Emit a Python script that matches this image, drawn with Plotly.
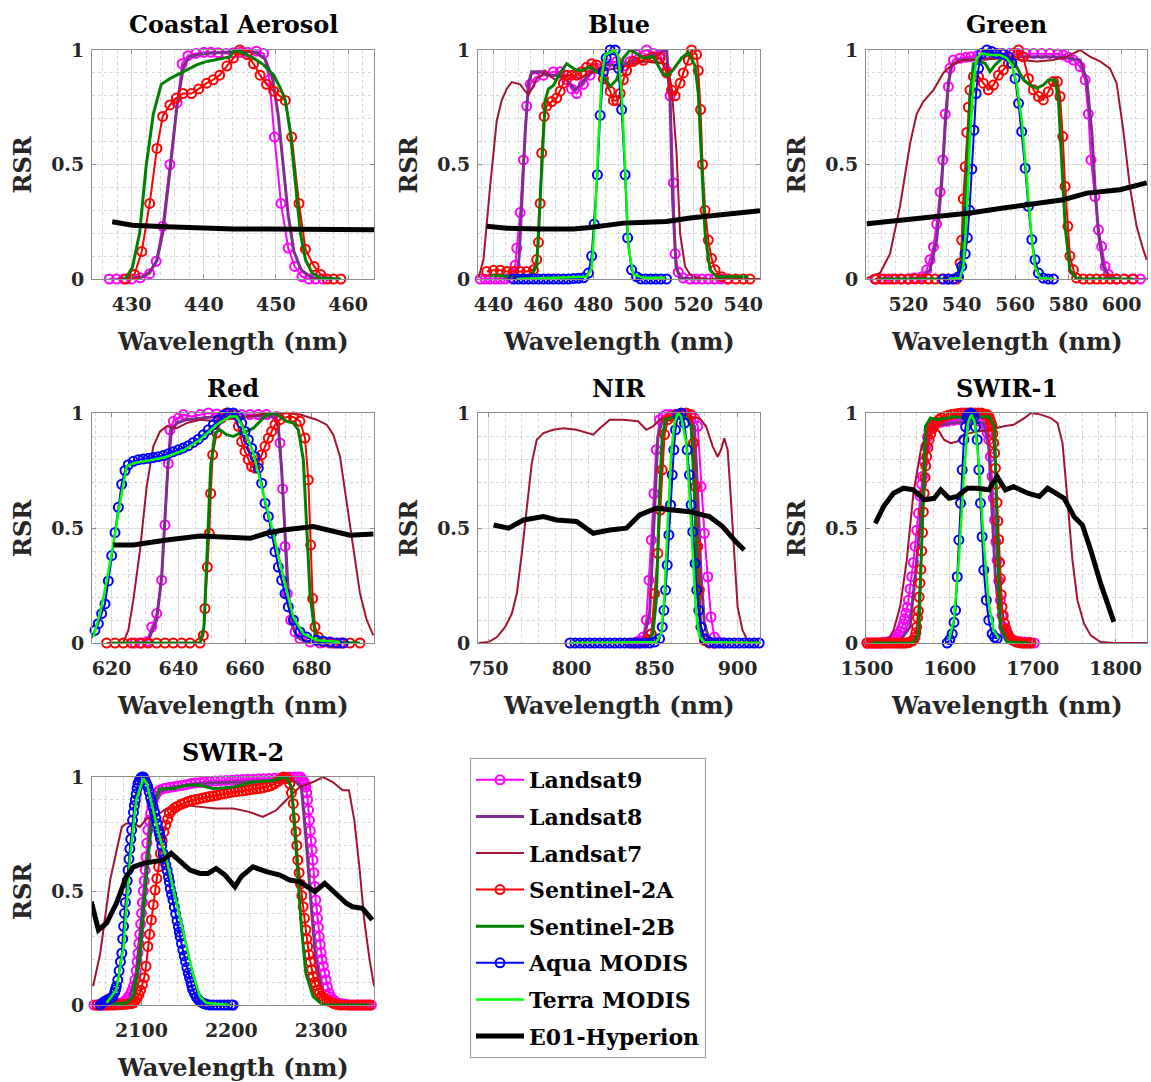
import plotly.graph_objects as go

# ---------------- labels / ticks ----------------
PANEL_TITLES = ["Coastal Aerosol", "Blue", "Green", "Red", "NIR", "SWIR-1", "SWIR-2"]
SERIES_NAMES = ["Landsat9", "Landsat8", "Landsat7", "Sentinel-2A", "Sentinel-2B",
                "Aqua MODIS", "Terra MODIS", "E01-Hyperion"]
X_TITLE = "Wavelength (nm)"
Y_TITLE = "RSR"
X_TICKS = [[430, 440, 450, 460], [440, 460, 480, 500, 520, 540], [520, 540, 560, 580, 600],
           [620, 640, 660, 680], [750, 800, 850, 900], [1500, 1600, 1700, 1800], [2100, 2200, 2300]]
Y_TICKS = [0, 0.5, 1]
Y_TICK_TEXT = ["0", "0.5", "1"]

# ---------------- Coastal Aerosol ----------------
CA_L9_WL = [426.9, 427.9, 428.9, 430.0, 431.2, 432.5, 433.4, 434.3, 435.3, 436.3, 437.0, 437.8, 438.9, 440.0, 441.0, 442.0, 443.1, 444.1, 445.1, 446.1, 447.3, 448.3, 449.1, 449.8, 450.7, 451.7, 452.6, 453.6, 454.6, 455.5, 456.5]
CA_L9_RSR = [0, 0, 0, 0, 0.005, 0.023, 0.077, 0.23, 0.5, 0.77, 0.94, 0.975, 0.985, 0.99, 0.99, 0.988, 0.985, 0.988, 0.99, 0.99, 0.995, 0.985, 0.87, 0.62, 0.33, 0.135, 0.055, 0.01, 0, 0, 0]
CA_L8_WL = [428, 430, 431.5, 432.5, 433.5, 434.3, 435.3, 436.3, 437.2, 438, 440, 444, 446, 447.5, 448.5, 449.5, 450.3, 451, 451.7, 452.5, 453.5, 455, 456]
CA_L8_RSR = [0, 0.003, 0.01, 0.03, 0.08, 0.2, 0.47, 0.76, 0.93, 0.97, 0.985, 0.99, 0.995, 0.985, 0.96, 0.88, 0.72, 0.5, 0.28, 0.12, 0.04, 0.005, 0]
CA_S2A_WL = [429.2, 430.4, 431.4, 432.5, 433.5, 434.3, 435.3, 436.2, 437.1, 438.3, 439.3, 440.4, 441.3, 442.2, 443.2, 444.1, 445.0, 446.0, 446.9, 447.8, 448.7, 449.7, 450.5, 451.3, 452.2, 453.2, 454.1, 455.3, 456.2, 457.1, 458.0, 459.0]
CA_S2A_RSR = [0, 0.02, 0.12, 0.33, 0.57, 0.71, 0.76, 0.79, 0.81, 0.81, 0.83, 0.855, 0.87, 0.89, 0.93, 0.965, 1.0, 0.98, 0.94, 0.89, 0.85, 0.82, 0.80, 0.78, 0.62, 0.33, 0.13, 0.055, 0.02, 0, 0, 0]
CA_S2B_WL = [429.1, 430.1, 431.1, 432.0, 433.0, 434.1, 435.3, 436.2, 437.6, 439.0, 440.4, 442.2, 443.6, 444.3, 445.3, 446.9, 448.3, 449.7, 450.6, 451.3, 452.0, 452.7, 453.4, 454.1, 455.0, 456.2, 458.0, 459.0]
CA_S2B_RSR = [0, 0.05, 0.2, 0.49, 0.72, 0.85, 0.875, 0.89, 0.91, 0.935, 0.95, 0.96, 0.97, 1.0, 0.99, 0.965, 0.935, 0.89, 0.835, 0.78, 0.64, 0.42, 0.2, 0.085, 0.026, 0.004, 0, 0]
CA_HYP_WL = [427.3, 430.1, 434.8, 439.4, 444.1, 448.7, 453.4, 458.0, 463.6]
CA_HYP_RSR = [0.25, 0.235, 0.228, 0.222, 0.218, 0.218, 0.218, 0.218, 0.215]

# ---------------- Blue ----------------
BL_L9_WL = [434.7, 436.7, 438.7, 440.7, 442.7, 444.7, 446.7, 448.0, 448.7, 449.3, 450.7, 452.0, 453.3, 454.7, 456.7, 460.0, 464.0, 466.7, 469.3, 471.3, 473.3, 476.0, 478.7, 481.3, 485.3, 489.3, 492.0, 494.7, 497.3, 501.3, 504.0, 506.7, 509.3, 510.7, 512.0, 512.7, 514.0, 516.0, 518.7, 521.0, 523.5, 526.0, 528.5, 531.0, 533.5]
BL_L9_RSR = [0, 0, 0, 0, 0, 0, 0.005, 0.02, 0.06, 0.135, 0.29, 0.52, 0.755, 0.85, 0.88, 0.89, 0.905, 0.905, 0.87, 0.83, 0.81, 0.85, 0.89, 0.92, 0.94, 0.95, 0.93, 0.95, 0.98, 1.0, 0.985, 0.978, 0.91, 0.8, 0.42, 0.11, 0.03, 0.004, 0, 0, 0, 0, 0, 0, 0]
BL_L8_WL = [444.0, 449.3, 450.3, 451.3, 452.7, 454.0, 455.3, 458.7, 461.3, 465.3, 469.3, 472.7, 475.3, 478.7, 485.3, 492.0, 498.7, 505.3, 509.3, 510.7, 511.7, 513.1, 514.7, 525.3]
BL_L8_RSR = [0, 0.01, 0.1, 0.35, 0.64, 0.855, 0.905, 0.905, 0.89, 0.89, 0.87, 0.825, 0.855, 0.9, 0.935, 0.935, 0.97, 0.98, 1.0, 0.78, 0.35, 0.055, 0.004, 0]
BL_L7_WL = [434.0, 436.0, 438.7, 441.3, 443.3, 445.3, 447.3, 448.7, 450.7, 452.7, 454.0, 455.3, 457.3, 459.3, 460.7, 462.7, 464.7, 466.7, 470.7, 474.7, 478.7, 489.3, 500.0, 509.3, 511.3, 513.3, 514.7, 516.7, 518.7, 522.7, 546.7]
BL_L7_RSR = [0.005, 0.085, 0.41, 0.69, 0.78, 0.83, 0.86, 0.855, 0.85, 0.82, 0.805, 0.83, 0.875, 0.89, 0.91, 0.885, 0.87, 0.885, 0.89, 0.875, 0.9, 0.92, 0.95, 0.94, 0.84, 0.55, 0.2, 0.055, 0.02, 0, 0]
BL_S2A_WL = [437.3, 440.0, 442.7, 445.3, 448.0, 450.7, 453.3, 456.0, 457.3, 458.0, 458.7, 459.3, 460.3, 461.3, 463.3, 465.3, 466.7, 468.0, 469.3, 471.3, 473.3, 475.3, 477.3, 479.3, 481.3, 484.0, 486.7, 488.0, 489.3, 490.7, 492.0, 493.3, 496.0, 500.0, 504.0, 506.7, 509.3, 511.3, 512.7, 514.7, 516.0, 518.0, 519.3, 521.3, 522.0, 522.9, 523.7, 524.7, 526.0, 527.3, 528.7, 531.3, 534.0, 537.0, 540.0, 542.7]
BL_S2A_RSR = [0.033, 0.038, 0.038, 0.033, 0.033, 0.033, 0.033, 0.04, 0.085, 0.16, 0.33, 0.55, 0.71, 0.755, 0.775, 0.79, 0.82, 0.855, 0.89, 0.89, 0.89, 0.905, 0.925, 0.94, 0.935, 0.875, 0.82, 0.78, 0.78, 0.81, 0.87, 0.91, 0.95, 0.955, 0.97, 0.965, 0.9, 0.825, 0.8, 0.855, 0.9, 0.955, 1.0, 0.98, 0.91, 0.74, 0.5, 0.3, 0.17, 0.09, 0.04, 0.01, 0, 0, 0, 0]
BL_S2B_WL = [438.7, 454.7, 457.3, 459.3, 460.7, 462.0, 464.0, 466.7, 469.3, 472.7, 475.3, 478.7, 481.3, 484.0, 486.7, 489.3, 492.0, 494.7, 497.3, 500.0, 504.0, 507.3, 509.3, 512.0, 515.3, 518.0, 520.7, 522.0, 523.3, 524.7, 526.7, 529.3, 542.0]
BL_S2B_RSR = [0.015, 0.01, 0.055, 0.49, 0.78, 0.83, 0.845, 0.9, 0.94, 0.915, 0.91, 0.925, 0.905, 0.89, 0.84, 0.87, 0.965, 1.0, 0.985, 0.965, 0.97, 0.905, 0.885, 0.915, 0.965, 0.99, 0.93, 0.81, 0.52, 0.2, 0.04, 0.01, 0.01]
BL_AQ_WL = [448, 450, 452, 454, 456, 458, 460, 462, 464, 466, 468, 470, 472, 474, 476, 478.0, 479.3, 480.3, 481.6, 482.7, 484.0, 485.1, 486.7, 488.7, 490.0, 491.3, 492.7, 493.7, 495.3, 497.3, 499, 501, 503, 505, 507, 509.3]
BL_AQ_RSR = [0, 0, 0, 0, 0, 0, 0, 0, 0, 0, 0, 0, 0.002, 0.003, 0.005, 0.026, 0.1, 0.24, 0.455, 0.715, 0.905, 0.965, 1.0, 1.0, 0.92, 0.74, 0.455, 0.18, 0.04, 0.01, 0, 0, 0, 0, 0, 0]
BL_TE_WL = [449.3, 477.3, 479.3, 480.7, 482.0, 483.3, 484.7, 486.7, 488.7, 490.0, 491.3, 492.7, 494.0, 496.0, 500.0, 508.7]
BL_TE_RSR = [0, 0.01, 0.045, 0.27, 0.6, 0.88, 0.98, 0.99, 1.0, 0.97, 0.81, 0.49, 0.14, 0.02, 0.005, 0.005]
BL_HYP_WL = [437.3, 445.3, 458.7, 472.0, 478.7, 485.3, 492.0, 498.7, 509.3, 518.7, 532.0, 546.7]
BL_HYP_RSR = [0.23, 0.222, 0.218, 0.218, 0.225, 0.237, 0.244, 0.247, 0.251, 0.266, 0.28, 0.298]

# ---------------- Green ----------------
GR_L9_WL = [508, 511, 514, 517, 520, 522, 525.0, 526.9, 528.1, 529.4, 530.6, 531.9, 532.9, 533.8, 535.0, 535.6, 536.9, 539.4, 541.5, 543.5, 546, 549, 552, 555, 558, 561, 564, 567, 570, 573, 576, 578.1, 580, 581.9, 584.4, 586.3, 587.5, 588.5, 590.0, 591.3, 592.5, 593.8, 595.0, 598.1, 601, 604, 607, 610]
GR_L9_RSR = [0, 0, 0, 0, 0, 0.004, 0.01, 0.04, 0.084, 0.14, 0.24, 0.38, 0.52, 0.72, 0.84, 0.92, 0.956, 0.964, 0.968, 0.971, 0.975, 0.978, 0.982, 0.985, 0.985, 0.985, 0.985, 0.985, 0.985, 0.985, 0.982, 0.978, 0.968, 0.956, 0.927, 0.87, 0.72, 0.52, 0.36, 0.215, 0.142, 0.055, 0.02, 0, 0, 0, 0, 0]
GR_L8_WL = [524.4, 528.1, 530.6, 532.5, 533.8, 535.0, 536.3, 539.4, 549.4, 561.9, 574.4, 580.6, 584.4, 586.9, 588.8, 590.0, 591.3, 593.1, 595.6, 599.4]
GR_L8_RSR = [0, 0.04, 0.17, 0.42, 0.665, 0.855, 0.935, 0.956, 0.964, 0.971, 0.971, 0.964, 0.956, 0.87, 0.64, 0.40, 0.2, 0.055, 0.004, 0]
GR_L7_WL = [504.4, 509.4, 513.1, 516.9, 520.6, 523.1, 525.6, 529.4, 533.1, 536.3, 540.6, 545.6, 555.6, 563.1, 568.1, 574.4, 579.4, 584.4, 588.1, 591.9, 595.6, 598.1, 600.6, 603.1, 605.6, 608.1, 609.4]
GR_L7_RSR = [0.004, 0.026, 0.11, 0.32, 0.59, 0.72, 0.775, 0.825, 0.9, 0.935, 0.956, 0.956, 0.964, 0.956, 0.95, 0.956, 0.971, 1.0, 0.971, 0.95, 0.92, 0.855, 0.65, 0.40, 0.23, 0.128, 0.084]
GR_S2A_WL = [507.5, 510, 512.5, 515, 517.5, 520, 522.5, 525, 527.5, 530, 532.5, 535, 538.1, 539.4, 540.0, 540.6, 541.3, 541.9, 542.5, 543.1, 544.4, 546.3, 548.1, 550.0, 551.9, 553.8, 555.6, 557.5, 559.4, 561.3, 563.1, 565.0, 566.9, 568.8, 570.6, 572.5, 574.4, 575.9, 576.9, 577.9, 578.8, 579.8, 580.6, 581.9, 583.1, 585.6, 588.1, 590.6, 593.1, 595.6, 598.1, 601, 604.4]
GR_S2A_RSR = [0, 0, 0, 0, 0, 0, 0, 0, 0, 0, 0, 0, 0, 0.07, 0.17, 0.35, 0.49, 0.64, 0.75, 0.825, 0.884, 0.884, 0.855, 0.826, 0.847, 0.89, 0.913, 0.942, 0.985, 1.0, 0.97, 0.876, 0.826, 0.797, 0.782, 0.818, 0.862, 0.862, 0.797, 0.622, 0.404, 0.23, 0.1, 0.04, 0.004, 0, 0, 0, 0, 0, 0, 0, 0]
GR_S2B_WL = [509.4, 538.1, 540.0, 541.9, 543.1, 544.4, 546.3, 548.8, 550.6, 552.5, 554.4, 555.6, 558.1, 560.6, 563.1, 565.6, 568.1, 570.6, 572.5, 575.0, 576.3, 577.5, 578.8, 580.6, 583.1, 604.4]
GR_S2B_RSR = [0, 0, 0.084, 0.46, 0.8, 0.94, 0.95, 0.942, 0.905, 0.935, 0.956, 0.971, 0.964, 0.927, 0.87, 0.847, 0.833, 0.847, 0.869, 0.869, 0.782, 0.52, 0.23, 0.04, 0, 0]
GR_AQ_WL = [533.1, 535.0, 536.9, 538.8, 540.0, 541.3, 542.1, 542.9, 543.8, 544.6, 545.4, 546.3, 547.5, 549.4, 551.3, 553.1, 555.6, 557.5, 558.8, 560.0, 561.3, 562.5, 563.8, 565.0, 566.3, 567.5, 568.8, 570.6, 572.5, 574.4]
GR_AQ_RSR = [0, 0, 0, 0.01, 0.055, 0.11, 0.18, 0.3, 0.48, 0.65, 0.81, 0.92, 0.985, 1.0, 0.993, 0.985, 0.983, 0.971, 0.942, 0.876, 0.767, 0.644, 0.484, 0.317, 0.172, 0.084, 0.026, 0.004, 0, 0]
GR_TE_WL = [535.0, 539.4, 540.6, 541.9, 543.1, 544.4, 545.6, 547.5, 550.6, 554.4, 556.9, 558.8, 560.6, 562.5, 563.8, 565.0, 566.3, 567.5, 569.4, 574.4]
GR_TE_RSR = [0, 0.004, 0.055, 0.27, 0.61, 0.855, 0.964, 0.985, 0.978, 0.978, 0.964, 0.935, 0.855, 0.695, 0.52, 0.346, 0.172, 0.055, 0.004, 0]
GR_HYP_WL = [504.4, 509.4, 518.1, 530.6, 543.1, 555.6, 568.1, 578.1, 586.9, 599.4, 609.4]
GR_HYP_RSR = [0.241, 0.247, 0.259, 0.27, 0.288, 0.31, 0.328, 0.346, 0.375, 0.39, 0.42]

# ---------------- Red ----------------
RD_L9_WL = [627, 629, 630.5, 632.0, 633.5, 635.0, 636.0, 637.0, 637.5, 638.5, 640.0, 641.5, 644.0, 646.5, 649.0, 651.5, 654, 656.5, 659, 661.5, 664, 666.5, 669.5, 670.5, 671.3, 672.0, 672.7, 673.7, 675.0, 676.5, 679.5, 682.5, 685.5, 688.5]
RD_L9_RSR = [0, 0, 0.005, 0.07, 0.128, 0.273, 0.513, 0.78, 0.927, 0.964, 0.978, 0.993, 0.985, 0.993, 1.0, 0.996, 0.993, 0.993, 0.993, 0.993, 0.993, 0.993, 0.985, 0.87, 0.67, 0.42, 0.215, 0.1, 0.048, 0.019, 0.004, 0, 0, 0]
RD_L8_WL = [631.0, 633.5, 635.0, 636.0, 637.0, 638.0, 639.5, 642.5, 646.5, 651.5, 656.5, 662.5, 668.5, 670.0, 671.0, 672.0, 673.0, 674.0, 675.5, 678.5, 682.5]
RD_L8_RSR = [0.012, 0.1, 0.29, 0.535, 0.8, 0.927, 0.956, 0.971, 0.978, 0.985, 0.98, 0.987, 0.985, 0.94, 0.753, 0.477, 0.215, 0.084, 0.026, 0.004, 0]
RD_L7_WL = [623.5, 625.0, 626.5, 628.5, 630.5, 632.5, 634.5, 636.5, 639.5, 642.5, 646.5, 651.5, 656.5, 661.5, 666.5, 671.5, 676.5, 681.5, 684.5, 686.5, 688.5, 690.0, 691.5, 693.0, 694.5, 696.5, 698.5]
RD_L7_RSR = [0.004, 0.055, 0.186, 0.404, 0.68, 0.855, 0.92, 0.942, 0.934, 0.956, 0.971, 0.964, 0.978, 0.985, 1.0, 1.0, 0.993, 0.971, 0.949, 0.906, 0.81, 0.666, 0.506, 0.36, 0.215, 0.1, 0.033]
RD_S2A_WL = [618.5, 621, 623.5, 626, 628.5, 631, 633.5, 636, 638.5, 641, 643.5, 646.5, 647.5, 648.0, 648.7, 649.3, 649.7, 650.3, 651.5, 653.0, 654.5, 656.5, 658.0, 659.0, 660.0, 661.0, 662.0, 663.0, 664.0, 665.0, 666.0, 667.0, 668.0, 669.0, 670.5, 672.5, 674.5, 676.5, 678.0, 679.0, 679.7, 680.3, 681.0, 682.0, 683.5, 686.5, 689, 691.5, 694.5]
RD_S2A_RSR = [0, 0, 0, 0, 0, 0, 0, 0, 0, 0, 0, 0, 0.033, 0.15, 0.33, 0.477, 0.65, 0.818, 0.913, 0.978, 1.0, 0.993, 0.942, 0.876, 0.833, 0.797, 0.767, 0.76, 0.782, 0.818, 0.855, 0.891, 0.92, 0.949, 0.971, 0.983, 0.983, 0.964, 0.891, 0.709, 0.426, 0.193, 0.07, 0.026, 0.004, 0, 0, 0, 0]
RD_S2B_WL = [619.5, 646.5, 647.7, 648.7, 649.7, 651.0, 652.5, 654.5, 656.5, 658.5, 660.5, 662.5, 664.5, 666.5, 668.5, 670.5, 672.5, 674.5, 676.0, 677.5, 678.5, 679.5, 681.0, 683.0, 694.5]
RD_S2B_RSR = [0, 0, 0.07, 0.42, 0.767, 0.913, 0.927, 0.906, 0.898, 0.913, 0.92, 0.934, 0.964, 0.993, 1.0, 0.985, 0.964, 0.956, 0.927, 0.797, 0.506, 0.215, 0.04, 0.004, 0]
RD_AQ_WL = [613.5, 615.0, 616.0, 617.0, 618.0, 619.0, 620.0, 621.0, 622.0, 623.0, 624.0, 625.0, 626.5, 628.0, 629.5, 631.0, 632.5, 634.0, 635.5, 637.0, 638.5, 640.0, 641.5, 643.0, 644.5, 646.0, 647.5, 649.0, 650.5, 652.0, 653.5, 655.0, 656.5, 658.0, 659.0, 660.0, 661.0, 662.0, 663.0, 664.0, 665.0, 666.0, 667.0, 668.0, 669.0, 670.0, 671.0, 672.0, 673.0, 674.5, 676.5, 678.5, 681.5, 683.5, 685.5, 687.5, 689.5]
RD_AQ_RSR = [0.01, 0.055, 0.084, 0.128, 0.17, 0.27, 0.38, 0.48, 0.59, 0.69, 0.75, 0.775, 0.79, 0.797, 0.8, 0.803, 0.806, 0.81, 0.815, 0.823, 0.832, 0.84, 0.848, 0.858, 0.872, 0.886, 0.905, 0.927, 0.949, 0.97, 0.99, 1.0, 1.0, 0.985, 0.956, 0.92, 0.884, 0.847, 0.81, 0.76, 0.695, 0.608, 0.55, 0.477, 0.397, 0.33, 0.273, 0.215, 0.157, 0.1, 0.048, 0.026, 0.012, 0.008, 0.004, 0, 0]
RD_TE_WL = [614.5, 616.5, 618.5, 620.5, 622.5, 624.5, 626.5, 631.5, 636.5, 641.5, 646.5, 651.5, 655.5, 657.5, 659.5, 662.5, 665.5, 668.5, 671.5, 674.5, 677.5, 681.5, 688.5]
RD_TE_RSR = [0.026, 0.128, 0.27, 0.43, 0.61, 0.767, 0.782, 0.794, 0.81, 0.837, 0.884, 0.949, 0.985, 0.985, 0.934, 0.826, 0.65, 0.477, 0.288, 0.113, 0.04, 0.012, 0.004]
RD_HYP_WL = [620.5, 626.5, 636.5, 646.5, 656.5, 661.5, 666.5, 671.5, 680.5, 686.5, 691.5, 698.5]
RD_HYP_RSR = [0.426, 0.426, 0.448, 0.465, 0.459, 0.455, 0.477, 0.491, 0.506, 0.484, 0.469, 0.474]

# ---------------- NIR ----------------
NR_L9_WL = [836, 839, 841, 843, 845, 846.6, 848, 849.6, 851, 853, 855, 857, 860, 863, 866, 869, 872, 874, 876, 878, 880, 882, 884, 886, 889, 892]
NR_L9_RSR = [0, 0.004, 0.01, 0.026, 0.1, 0.273, 0.448, 0.65, 0.84, 0.971, 0.985, 0.993, 0.993, 0.993, 0.993, 0.993, 0.985, 0.978, 0.942, 0.68, 0.477, 0.288, 0.113, 0.026, 0.004, 0]
NR_L8_WL = [843, 847, 850, 852, 855, 863, 871, 874, 876, 878, 880, 883, 889]
NR_L8_RSR = [0.004, 0.128, 0.578, 0.898, 0.978, 0.985, 0.983, 0.942, 0.65, 0.288, 0.084, 0.012, 0]
NR_L7_WL = [744, 750, 755, 760, 764, 767, 770, 773, 776, 779, 783, 789, 795, 803, 809, 813, 817, 823, 831, 840, 845, 849, 853, 859, 867, 877, 881, 885, 888, 890, 892, 894, 896, 898, 900, 903, 906, 913]
NR_L7_RSR = [0, 0.004, 0.026, 0.07, 0.128, 0.215, 0.39, 0.593, 0.782, 0.884, 0.913, 0.927, 0.934, 0.927, 0.913, 0.906, 0.934, 0.971, 0.971, 0.964, 0.927, 0.942, 0.971, 0.985, 0.985, 0.978, 0.942, 0.855, 0.81, 0.84, 0.89, 0.84, 0.622, 0.36, 0.157, 0.055, 0.012, 0]
NR_S2A_WL = [838, 841, 844, 846, 848, 850, 852, 853.4, 854.6, 856, 858, 860, 863, 866, 869, 872, 873.4, 874.6, 876, 877, 878, 880, 883, 886]
NR_S2A_RSR = [0, 0, 0.004, 0.015, 0.04, 0.215, 0.39, 0.578, 0.753, 0.906, 0.971, 0.985, 0.993, 0.996, 1.0, 0.993, 0.87, 0.68, 0.42, 0.23, 0.07, 0.012, 0, 0]
NR_S2B_WL = [845, 849, 851, 853, 854.6, 856.6, 863, 869, 872, 874, 876, 878, 881]
NR_S2B_RSR = [0.004, 0.04, 0.186, 0.65, 0.898, 0.971, 0.985, 0.983, 0.942, 0.65, 0.215, 0.04, 0.004]
NR_AQ_WL = [799, 802, 805, 808, 811, 814, 817, 820, 823, 826, 829, 832, 835, 838, 841, 844, 847, 850, 853, 854.6, 855.6, 856.6, 857.6, 858.6, 859.6, 860.6, 861.6, 862.6, 864, 866, 868, 869.6, 871, 872, 873, 874.4, 875.4, 876.6, 878, 880, 883, 886, 889, 892, 895, 898, 901, 904, 907, 910, 913, 915]
NR_AQ_RSR = [0, 0, 0, 0, 0, 0, 0, 0, 0, 0, 0, 0, 0, 0, 0, 0, 0, 0.004, 0.019, 0.07, 0.142, 0.23, 0.339, 0.47, 0.6, 0.731, 0.84, 0.927, 0.993, 1.0, 0.956, 0.84, 0.731, 0.6, 0.484, 0.346, 0.23, 0.142, 0.07, 0.019, 0.004, 0, 0, 0, 0, 0, 0, 0, 0, 0, 0, 0]
NR_TE_WL = [799, 851, 854, 856, 858, 860, 862, 864, 866, 869, 871, 873, 875, 877, 880, 915]
NR_TE_RSR = [0, 0.004, 0.04, 0.215, 0.535, 0.826, 0.956, 1.0, 0.985, 0.87, 0.65, 0.36, 0.128, 0.026, 0.004, 0]
NR_HYP_WL = [753, 762, 771, 783, 791, 803, 813, 823, 833, 841, 851, 861, 871, 883, 891, 899, 904]
NR_HYP_RSR = [0.513, 0.499, 0.535, 0.55, 0.535, 0.528, 0.477, 0.491, 0.499, 0.557, 0.586, 0.578, 0.571, 0.55, 0.506, 0.44, 0.404]

# ---------------- SWIR-1 (wavelength, RSR) pairs for the densely sampled bands ----------------
S1_L9_PTS = [(1500, 0), (1504, 0), (1508, 0), (1512, 0), (1516, 0), (1520, 0.002), (1524, 0.004), (1527, 0.007), (1530, 0.01), (1533, 0.017), (1536, 0.026), (1538, 0.038), (1540, 0.05), (1542, 0.066), (1544, 0.084), (1545.5, 0.105), (1547, 0.13), (1548.5, 0.155), (1550, 0.186), (1552, 0.235), (1554, 0.288), (1556, 0.35), (1558, 0.42), (1560, 0.49), (1562, 0.564), (1564, 0.64), (1566, 0.69), (1567, 0.724), (1569, 0.79), (1571, 0.855), (1573, 0.895), (1575, 0.927), (1578, 0.945), (1581, 0.953), (1585, 0.957), (1590, 0.96), (1597, 0.964), (1605, 0.968), (1613, 0.971), (1621, 0.971), (1629, 0.971), (1635, 0.965), (1638, 0.962), (1641, 0.956), (1643, 0.94), (1645, 0.915), (1647, 0.884), (1649, 0.81), (1651, 0.724), (1652.5, 0.63), (1654, 0.535), (1655.5, 0.44), (1657, 0.36), (1659, 0.27), (1661, 0.186), (1663, 0.12), (1665, 0.07), (1667, 0.05), (1669, 0.035), (1671, 0.026), (1673, 0.019), (1676, 0.013), (1680, 0.008), (1685, 0.006), (1690, 0.004), (1696, 0.002), (1702, 0)]
S1_S2A_PTS = [(1500, 0), (1503, 0), (1506, 0), (1509, 0), (1512, 0), (1515, 0), (1518, 0), (1521, 0), (1524, 0), (1527, 0), (1530, 0), (1533, 0), (1536, 0), (1539, 0), (1542, 0), (1545, 0), (1548, 0), (1551, 0.003), (1554, 0.008), (1556, 0.012), (1558, 0.025), (1559, 0.045), (1560, 0.07), (1561, 0.11), (1562, 0.14), (1563, 0.2), (1564, 0.26), (1565, 0.32), (1566, 0.4), (1567, 0.48), (1568, 0.57), (1569, 0.65), (1570, 0.72), (1571, 0.77), (1572, 0.81), (1573.5, 0.85), (1575, 0.885), (1577, 0.91), (1579, 0.932), (1581, 0.945), (1584, 0.96), (1587, 0.972), (1590, 0.98), (1594, 0.985), (1598, 0.99), (1602, 0.993), (1606, 0.996), (1610, 0.998), (1614, 1.0), (1618, 1.0), (1622, 1.0), (1626, 1.0), (1630, 1.0), (1634, 1.0), (1638, 1.0), (1641, 0.996), (1643, 0.995), (1645, 0.993), (1647, 0.985), (1648.5, 0.97), (1650, 0.955), (1651, 0.942), (1652, 0.91), (1653, 0.87), (1654, 0.826), (1655, 0.76), (1656, 0.69), (1657, 0.61), (1658, 0.53), (1659, 0.45), (1660, 0.35), (1661, 0.28), (1662, 0.21), (1663, 0.157), (1664.5, 0.12), (1666, 0.085), (1668, 0.06), (1670, 0.04), (1672, 0.025), (1674, 0.017), (1677, 0.01), (1680, 0.005), (1683, 0.002), (1686, 0), (1689, 0), (1692, 0), (1695, 0), (1698, 0)]
S1_L8_WL = [1540, 1552, 1560, 1567, 1573, 1581, 1601, 1625, 1641, 1647, 1651, 1655, 1661, 1669, 1685]
S1_L8_RSR = [0.01, 0.07, 0.36, 0.65, 0.884, 0.942, 0.956, 0.964, 0.956, 0.855, 0.578, 0.288, 0.084, 0.012, 0]
S1_L7_WL = [1504, 1524, 1532, 1540, 1548, 1556, 1565, 1573, 1581, 1587, 1593, 1601, 1609, 1617, 1633, 1649, 1665, 1677, 1690, 1698, 1710, 1722, 1730, 1736, 1742, 1748, 1754, 1762, 1770, 1782, 1798, 1838]
S1_L7_RSR = [0, 0.004, 0.055, 0.157, 0.36, 0.65, 0.84, 0.92, 0.942, 0.92, 0.884, 0.869, 0.876, 0.906, 0.92, 0.927, 0.942, 0.949, 0.978, 1.0, 0.993, 0.978, 0.956, 0.869, 0.622, 0.36, 0.186, 0.084, 0.033, 0.004, 0, 0]
S1_S2B_WL = [1504, 1556, 1562.5, 1566.5, 1570.6, 1576.6, 1584.7, 1596.8, 1604.8, 1614.9, 1625, 1637, 1647, 1654, 1657, 1661, 1669, 1693.5]
S1_S2B_RSR = [0, 0, 0.04, 0.506, 0.942, 0.978, 0.971, 0.978, 0.985, 0.978, 0.974, 0.983, 0.985, 0.942, 0.506, 0.07, 0.004, 0]
S1_AQ_WL = [1596.8, 1600, 1602.8, 1605, 1606.9, 1608.9, 1610.9, 1612.9, 1614.9, 1616.9, 1619, 1621, 1623, 1625, 1627, 1629, 1631, 1633, 1635, 1637, 1639, 1641, 1644, 1647, 1651, 1654, 1657]
S1_AQ_RSR = [0, 0.015, 0.04, 0.09, 0.142, 0.288, 0.448, 0.608, 0.753, 0.884, 0.94, 0.985, 0.995, 1.0, 0.995, 0.985, 0.94, 0.884, 0.753, 0.608, 0.462, 0.317, 0.186, 0.099, 0.04, 0.025, 0.019]
S1_TE_WL = [1598.8, 1604.8, 1610.9, 1616.9, 1621.8, 1625.8, 1629.8, 1635, 1641, 1647, 1653, 1659]
S1_TE_RSR = [0.012, 0.1, 0.36, 0.724, 0.956, 0.993, 0.964, 0.782, 0.433, 0.172, 0.055, 0.019]
S1_HYP_WL = [1510, 1520, 1532, 1544, 1556, 1569, 1581, 1589, 1599, 1609, 1621, 1633, 1647, 1657, 1667, 1677, 1694, 1708, 1718, 1728, 1738, 1750, 1760, 1770, 1782, 1798]
S1_HYP_RSR = [0.52, 0.593, 0.651, 0.673, 0.666, 0.622, 0.629, 0.666, 0.629, 0.637, 0.673, 0.673, 0.666, 0.724, 0.666, 0.68, 0.651, 0.637, 0.673, 0.651, 0.629, 0.549, 0.513, 0.404, 0.259, 0.092]

# ---------------- SWIR-2 ----------------
S2_L9_PTS = [(2043, 0), (2047, 0), (2051, 0), (2055, 0), (2059, 0), (2063, 0.001), (2067, 0.002), (2071, 0.004), (2075, 0.007), (2078, 0.01), (2081, 0.016), (2083, 0.023), (2085, 0.033), (2087, 0.045), (2089, 0.062), (2091, 0.082), (2092.5, 0.11), (2094, 0.15), (2095, 0.19), (2096, 0.227), (2097, 0.27), (2098, 0.31), (2099, 0.355), (2100, 0.402), (2101, 0.45), (2102, 0.5), (2103, 0.545), (2104, 0.592), (2105, 0.65), (2106, 0.71), (2107, 0.767), (2108.5, 0.81), (2110, 0.84), (2111.5, 0.87), (2113, 0.898), (2115, 0.918), (2117, 0.93), (2120, 0.942), (2124, 0.948), (2128, 0.952), (2132, 0.955), (2136, 0.957), (2140, 0.96), (2145, 0.963), (2150, 0.967), (2155, 0.971), (2160, 0.974), (2165, 0.976), (2170, 0.978), (2176, 0.98), (2182, 0.982), (2188, 0.984), (2194, 0.985), (2200, 0.986), (2206, 0.988), (2212, 0.989), (2218, 0.99), (2224, 0.99), (2230, 0.991), (2236, 0.992), (2242, 0.993), (2248, 0.994), (2254, 0.995), (2260, 0.997), (2265, 1.0), (2270, 1.0), (2274, 1.0), (2277, 1.0), (2279, 0.99), (2281, 0.98), (2282, 0.97), (2283, 0.956), (2284, 0.93), (2285, 0.9), (2286, 0.855), (2287, 0.81), (2288, 0.765), (2289, 0.72), (2290, 0.68), (2291, 0.636), (2292, 0.58), (2293, 0.52), (2294, 0.461), (2295, 0.42), (2296, 0.38), (2297, 0.34), (2298, 0.3), (2299, 0.265), (2300, 0.23), (2301, 0.2), (2302.5, 0.17), (2304, 0.14), (2305.5, 0.11), (2307, 0.08), (2309, 0.052), (2311, 0.035), (2313, 0.025), (2315, 0.018), (2317, 0.012), (2320, 0.008), (2324, 0.005), (2328, 0.002), (2332, 0), (2336, 0), (2340, 0), (2344, 0), (2348, 0), (2352, 0), (2356, 0)]
S2_S2A_PTS = [(2050, 0), (2054, 0), (2058, 0), (2062, 0), (2066, 0), (2070, 0), (2074, 0.001), (2078, 0.002), (2082, 0.003), (2086, 0.005), (2089, 0.007), (2091, 0.009), (2093, 0.02), (2095, 0.03), (2097, 0.045), (2099, 0.065), (2101, 0.09), (2103, 0.12), (2105, 0.17), (2107, 0.257), (2109, 0.31), (2111, 0.373), (2113, 0.44), (2115, 0.504), (2117, 0.555), (2119, 0.606), (2121, 0.665), (2123, 0.72), (2125, 0.76), (2127, 0.79), (2129, 0.815), (2131, 0.84), (2134, 0.855), (2137, 0.865), (2140, 0.872), (2144, 0.88), (2148, 0.886), (2152, 0.893), (2156, 0.898), (2160, 0.901), (2164, 0.904), (2168, 0.908), (2172, 0.911), (2176, 0.914), (2180, 0.917), (2184, 0.92), (2188, 0.924), (2192, 0.927), (2196, 0.93), (2200, 0.933), (2204, 0.935), (2208, 0.937), (2212, 0.939), (2216, 0.941), (2220, 0.944), (2224, 0.946), (2228, 0.948), (2232, 0.95), (2236, 0.953), (2240, 0.957), (2244, 0.962), (2248, 0.97), (2252, 0.98), (2255, 0.99), (2258, 1.0), (2261, 0.998), (2263, 0.993), (2265, 0.97), (2267, 0.93), (2269, 0.883), (2270.5, 0.82), (2272, 0.76), (2273, 0.7), (2274, 0.636), (2275.5, 0.58), (2277, 0.53), (2278.5, 0.48), (2280, 0.431), (2281.5, 0.38), (2283, 0.33), (2284, 0.29), (2285, 0.257), (2286.5, 0.22), (2288, 0.19), (2289.5, 0.155), (2291, 0.125), (2292.5, 0.1), (2294, 0.085), (2296, 0.065), (2298, 0.052), (2300.5, 0.04), (2303, 0.03), (2306, 0.022), (2309, 0.016), (2312, 0.01), (2315, 0.005), (2318, 0.002), (2322, 0), (2326, 0), (2330, 0), (2334, 0), (2338, 0), (2342, 0), (2346, 0), (2350, 0), (2354, 0)]
S2_AQ_PTS = [(2054, 0), (2056, 0.008), (2058, 0.014), (2060, 0.018), (2062, 0.022), (2064, 0.027), (2066, 0.03), (2068, 0.036), (2070, 0.055), (2071, 0.068), (2072, 0.082), (2073.5, 0.11), (2075, 0.15), (2076.5, 0.19), (2078, 0.227), (2079, 0.29), (2080, 0.345), (2081, 0.402), (2082, 0.45), (2083, 0.5), (2084, 0.545), (2085, 0.592), (2086, 0.64), (2087, 0.685), (2088, 0.727), (2089, 0.767), (2090, 0.81), (2091, 0.845), (2092, 0.875), (2093, 0.898), (2094, 0.925), (2095, 0.95), (2096, 0.971), (2097.5, 0.985), (2099, 0.995), (2100.5, 1.0), (2102, 1.0), (2103.5, 0.99), (2105, 0.975), (2106, 0.965), (2107, 0.956), (2108.5, 0.935), (2110, 0.91), (2111.5, 0.89), (2113, 0.869), (2114.5, 0.845), (2116, 0.82), (2117.5, 0.795), (2119, 0.767), (2120, 0.75), (2121, 0.73), (2122.5, 0.7), (2124, 0.665), (2125.5, 0.64), (2127, 0.615), (2128.5, 0.59), (2130, 0.563), (2131, 0.54), (2132, 0.51), (2133.5, 0.485), (2135, 0.461), (2136.5, 0.43), (2138, 0.4), (2139.5, 0.37), (2141, 0.344), (2142, 0.32), (2143, 0.3), (2144.5, 0.27), (2146, 0.242), (2147.5, 0.215), (2149, 0.19), (2150.5, 0.165), (2152, 0.14), (2153.5, 0.12), (2155, 0.1), (2156, 0.083), (2157, 0.067), (2159, 0.05), (2161, 0.035), (2163, 0.025), (2165, 0.016), (2167.5, 0.01), (2170, 0.005), (2173, 0.002), (2176, 0), (2180, 0), (2184, 0), (2188, 0), (2192, 0), (2196, 0), (2200, 0), (2202, 0)]
S2_L8_WL = [2087, 2094, 2100, 2106, 2111, 2119, 2135, 2165, 2202, 2239, 2269, 2278, 2283, 2289, 2294, 2302, 2313, 2331]
S2_L8_RSR = [0.038, 0.14, 0.373, 0.636, 0.825, 0.934, 0.956, 0.971, 0.978, 0.985, 0.988, 0.956, 0.738, 0.431, 0.198, 0.052, 0.009, 0]
S2_L7_WL = [2046, 2054, 2065, 2072, 2078, 2083, 2091, 2098, 2106, 2113, 2120, 2128, 2139, 2150, 2165, 2183, 2202, 2220, 2235, 2250, 2261, 2269, 2276, 2291, 2302, 2313, 2324, 2331, 2337, 2343, 2348, 2354, 2359]
S2_L7_RSR = [0.082, 0.227, 0.548, 0.679, 0.781, 0.796, 0.796, 0.781, 0.818, 0.825, 0.84, 0.862, 0.869, 0.876, 0.869, 0.862, 0.862, 0.847, 0.825, 0.854, 0.898, 0.927, 0.956, 0.978, 1.0, 0.978, 0.942, 0.942, 0.81, 0.592, 0.373, 0.198, 0.082]
S2_S2B_WL = [2054, 2083, 2091, 2098, 2106, 2113, 2120, 2135, 2150, 2165, 2180, 2202, 2224, 2246, 2261, 2267, 2272, 2278, 2283, 2291, 2302, 2354]
S2_S2B_RSR = [0, 0.009, 0.038, 0.198, 0.592, 0.869, 0.949, 0.949, 0.964, 0.964, 0.949, 0.956, 0.978, 0.985, 1.0, 0.956, 0.694, 0.344, 0.14, 0.038, 0, 0]
S2_TE_WL = [2061, 2072, 2080, 2087, 2094, 2102, 2106, 2113, 2120, 2128, 2135, 2143, 2150, 2157, 2165, 2172, 2198]
S2_TE_RSR = [0.009, 0.067, 0.257, 0.636, 0.898, 0.993, 0.971, 0.847, 0.738, 0.636, 0.519, 0.388, 0.257, 0.14, 0.038, 0.009, 0]
S2_HYP_WL = [2044, 2052, 2061, 2072, 2083, 2091, 2102, 2113, 2124, 2133, 2144, 2154, 2165, 2174, 2183, 2193, 2204, 2211, 2224, 2239, 2254, 2265, 2276, 2293, 2304, 2317, 2328, 2335, 2346, 2357]
S2_HYP_RSR = [0.453, 0.329, 0.359, 0.446, 0.563, 0.606, 0.621, 0.628, 0.636, 0.665, 0.628, 0.592, 0.577, 0.577, 0.599, 0.57, 0.519, 0.563, 0.606, 0.585, 0.57, 0.548, 0.541, 0.497, 0.534, 0.49, 0.446, 0.431, 0.424, 0.373]


def split(pts):
    return [p[0] for p in pts], [p[1] for p in pts]


# ---------------- assemble panels ----------------
PANEL_SERIES = [
    {"Landsat9": (CA_L9_WL, CA_L9_RSR), "Landsat8": (CA_L8_WL, CA_L8_RSR),
     "Sentinel-2A": (CA_S2A_WL, CA_S2A_RSR), "Sentinel-2B": (CA_S2B_WL, CA_S2B_RSR),
     "E01-Hyperion": (CA_HYP_WL, CA_HYP_RSR)},
    {"Landsat9": (BL_L9_WL, BL_L9_RSR), "Landsat8": (BL_L8_WL, BL_L8_RSR), "Landsat7": (BL_L7_WL, BL_L7_RSR),
     "Sentinel-2A": (BL_S2A_WL, BL_S2A_RSR), "Sentinel-2B": (BL_S2B_WL, BL_S2B_RSR),
     "Aqua MODIS": (BL_AQ_WL, BL_AQ_RSR), "Terra MODIS": (BL_TE_WL, BL_TE_RSR),
     "E01-Hyperion": (BL_HYP_WL, BL_HYP_RSR)},
    {"Landsat9": (GR_L9_WL, GR_L9_RSR), "Landsat8": (GR_L8_WL, GR_L8_RSR), "Landsat7": (GR_L7_WL, GR_L7_RSR),
     "Sentinel-2A": (GR_S2A_WL, GR_S2A_RSR), "Sentinel-2B": (GR_S2B_WL, GR_S2B_RSR),
     "Aqua MODIS": (GR_AQ_WL, GR_AQ_RSR), "Terra MODIS": (GR_TE_WL, GR_TE_RSR),
     "E01-Hyperion": (GR_HYP_WL, GR_HYP_RSR)},
    {"Landsat9": (RD_L9_WL, RD_L9_RSR), "Landsat8": (RD_L8_WL, RD_L8_RSR), "Landsat7": (RD_L7_WL, RD_L7_RSR),
     "Sentinel-2A": (RD_S2A_WL, RD_S2A_RSR), "Sentinel-2B": (RD_S2B_WL, RD_S2B_RSR),
     "Aqua MODIS": (RD_AQ_WL, RD_AQ_RSR), "Terra MODIS": (RD_TE_WL, RD_TE_RSR),
     "E01-Hyperion": (RD_HYP_WL, RD_HYP_RSR)},
    {"Landsat9": (NR_L9_WL, NR_L9_RSR), "Landsat8": (NR_L8_WL, NR_L8_RSR), "Landsat7": (NR_L7_WL, NR_L7_RSR),
     "Sentinel-2A": (NR_S2A_WL, NR_S2A_RSR), "Sentinel-2B": (NR_S2B_WL, NR_S2B_RSR),
     "Aqua MODIS": (NR_AQ_WL, NR_AQ_RSR), "Terra MODIS": (NR_TE_WL, NR_TE_RSR),
     "E01-Hyperion": (NR_HYP_WL, NR_HYP_RSR)},
    {"Landsat9": split(S1_L9_PTS), "Landsat8": (S1_L8_WL, S1_L8_RSR), "Landsat7": (S1_L7_WL, S1_L7_RSR),
     "Sentinel-2A": split(S1_S2A_PTS), "Sentinel-2B": (S1_S2B_WL, S1_S2B_RSR),
     "Aqua MODIS": (S1_AQ_WL, S1_AQ_RSR), "Terra MODIS": (S1_TE_WL, S1_TE_RSR),
     "E01-Hyperion": (S1_HYP_WL, S1_HYP_RSR)},
    {"Landsat9": split(S2_L9_PTS), "Landsat8": (S2_L8_WL, S2_L8_RSR), "Landsat7": (S2_L7_WL, S2_L7_RSR),
     "Sentinel-2A": split(S2_S2A_PTS), "Sentinel-2B": (S2_S2B_WL, S2_S2B_RSR),
     "Aqua MODIS": split(S2_AQ_PTS), "Terra MODIS": (S2_TE_WL, S2_TE_RSR),
     "E01-Hyperion": (S2_HYP_WL, S2_HYP_RSR)},
]

# ---------------- styling / layout ----------------
X_RANGES = [[424.5, 463.6], [433.8, 546.7], [504.1, 609.5], [614.1, 698.7],
            [743.6, 913.5], [1498.8, 1838.0], [2044.8, 2358.9]]
X_MINOR = [2, 5, 5, 5, 10, 20, 20]


def circ(c):
    return dict(symbol="circle-open", size=9, color=c, line=dict(width=2, color=c))


STYLE = {
    "Landsat9": dict(mode="lines+markers", line=dict(color="#ff00ff", width=2), marker=circ("#ff00ff")),
    "Landsat8": dict(mode="lines", line=dict(color="#7e2f8e", width=3)),
    "Landsat7": dict(mode="lines", line=dict(color="#a2142f", width=2)),
    "Sentinel-2A": dict(mode="lines+markers", line=dict(color="#ff0000", width=2), marker=circ("#ff0000")),
    "Sentinel-2B": dict(mode="lines", line=dict(color="#008000", width=3)),
    "Aqua MODIS": dict(mode="lines+markers", line=dict(color="#0000ff", width=2), marker=circ("#0000ff")),
    "Terra MODIS": dict(mode="lines", line=dict(color="#00ff00", width=2.5)),
    "E01-Hyperion": dict(mode="lines", line=dict(color="#000000", width=5)),
}

W, H = 1151, 1082
COLS = [(92, 374), (478, 760), (866, 1147)]
ROWS = [(50, 279), (413, 643), (777, 1005)]
FONT = "DejaVu Serif"
TXT = "#262626"


def px(x):
    return x / W


def py(y):
    return 1 - y / H


fig = go.Figure()
LEGEND_PANEL = 1
order = [LEGEND_PANEL] + [i for i in range(len(PANEL_TITLES)) if i != LEGEND_PANEL]
for i in order:
    sfx = "" if i == 0 else str(i + 1)
    for rank, name in enumerate(SERIES_NAMES):
        if name not in PANEL_SERIES[i]:
            continue
        wl, rsr = PANEL_SERIES[i][name]
        fig.add_trace(go.Scatter(
            x=wl, y=rsr, name=name, xaxis="x" + sfx, yaxis="y" + sfx,
            legendgroup=name, showlegend=(i == LEGEND_PANEL), legendrank=rank + 1,
            cliponaxis=False, hoverinfo="skip", **STYLE[name]))

annotations = []
for i, title in enumerate(PANEL_TITLES):
    r, c = divmod(i, 3)
    l, rr = COLS[c]
    t, b = ROWS[r]
    sfx = "" if i == 0 else str(i + 1)
    common = dict(showline=True, linecolor="#8c8c8c", linewidth=1, mirror="ticks",
                  ticks="inside", ticklen=4, tickcolor="#8c8c8c", automargin=False,
                  showgrid=True, gridcolor="#dedede", gridwidth=1, zeroline=False,
                  tickfont=dict(family=FONT, size=19, color=TXT, weight="bold"))
    fig.layout["xaxis" + sfx] = dict(
        domain=[px(l), px(rr)], anchor="y" + sfx, range=X_RANGES[i],
        tickvals=X_TICKS[i], ticktext=[str(v) for v in X_TICKS[i]], ticklabelstandoff=8,
        minor=dict(dtick=X_MINOR[i], tick0=0, showgrid=True, gridcolor="#d4d4d4", griddash="dot", ticks=""),
        **common)
    fig.layout["yaxis" + sfx] = dict(
        domain=[py(b), py(t)], anchor="x" + sfx, range=[0, 1],
        tickvals=Y_TICKS, ticktext=Y_TICK_TEXT, ticklabelstandoff=3,
        minor=dict(dtick=0.1, tick0=0, showgrid=True, gridcolor="#d4d4d4", griddash="dot", ticks=""),
        **common)
    cx = px((l + rr) / 2)
    annotations.append(dict(text=title, x=cx, y=py(t - 25), xref="paper", yref="paper",
                            showarrow=False, xanchor="center", yanchor="middle",
                            font=dict(family=FONT, size=24, color="#000000", weight="bold")))
    annotations.append(dict(text=X_TITLE, x=cx, y=py(b + 62), xref="paper", yref="paper",
                            showarrow=False, xanchor="center", yanchor="middle",
                            font=dict(family=FONT, size=24, color=TXT, weight="bold")))
    annotations.append(dict(text=Y_TITLE, x=px(l - 70), y=py((t + b) / 2), xref="paper", yref="paper",
                            showarrow=False, xanchor="center", yanchor="middle", textangle=-90,
                            font=dict(family=FONT, size=24, color=TXT, weight="bold")))

fig.update_layout(
    width=W, height=H, autosize=False,
    margin=dict(l=0, r=0, t=0, b=0, autoexpand=False),
    paper_bgcolor="white", plot_bgcolor="white",
    font=dict(family=FONT, size=19, color=TXT, weight="bold"),
    annotations=annotations,
    legend=dict(x=px(470), y=py(758), xanchor="left", yanchor="top",
                bgcolor="white", bordercolor="#9a9a9a", borderwidth=1,
                font=dict(family=FONT, size=22, color="#000000", weight="bold"),
                traceorder="grouped", tracegroupgap=5, itemwidth=48),
)

fig.write_html("out.html", config={"displayModeBar": False},
               post_script="document.body.style.margin='0';")
